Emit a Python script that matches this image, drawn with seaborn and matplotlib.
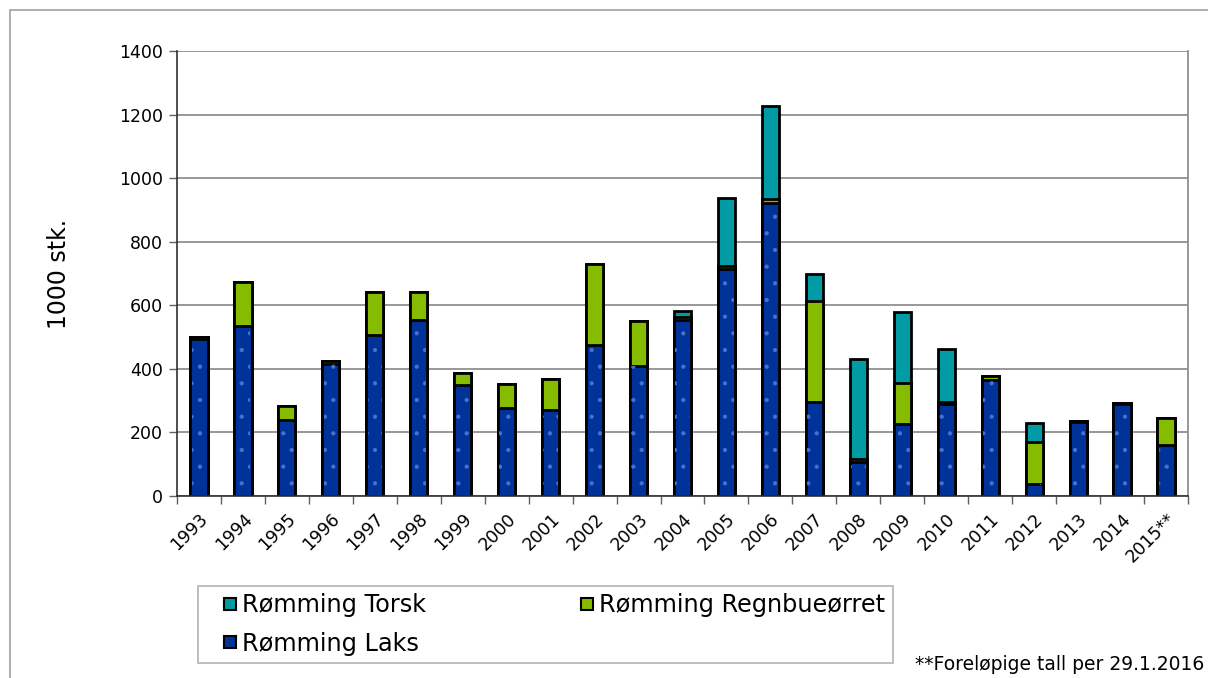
import pandas as pd
import seaborn as sns
import matplotlib.pyplot as plt
from matplotlib.lines import Line2D
from matplotlib.patches import Rectangle

# Values (1000 stk.)
years = ['1993', '1994', '1995', '1996', '1997', '1998', '1999', '2000', '2001', '2002',
         '2003', '2004', '2005', '2006', '2007', '2008', '2009', '2010', '2011', '2012',
         '2013', '2014', '2015**']
laks = [493, 535, 240, 415, 505, 554, 348, 278, 271, 476,
        408, 553, 715, 922, 297, 108, 225, 290, 366, 37,
        232, 289, 160]
regnbue = [8, 139, 43, 9, 136, 87, 40, 73, 97, 254,
           144, 10, 8, 13, 315, 8, 132, 7, 12, 134,
           3, 3, 85]
torsk = [0, 0, 0, 0, 0, 0, 0, 0, 0, 0,
         0, 20, 215, 292, 86, 314, 223, 167, 0, 58,
         0, 0, 0]

c_laks = '#003399'
c_regn = '#86BC00'
c_torsk = '#009BA5'

df = pd.DataFrame({'year': years, 'laks': laks, 'regnbue': regnbue, 'torsk': torsk})
df['laks_regn'] = df['laks'] + df['regnbue']
df['total'] = df['laks_regn'] + df['torsk']

sns.set_style('white')
plt.rcParams['font.family'] = ['DejaVu Sans']
plt.rcParams['text.color'] = 'black'
plt.rcParams['hatch.linewidth'] = 0.6

fig = plt.figure(figsize=(12.08, 6.78), dpi=100)
ax = fig.add_axes([177 / 1208, 1 - 496 / 678, 1011 / 1208, 445 / 678])

# Stacked bars drawn as overlapping cumulative layers
sns.barplot(data=df, x='year', y='total', color=c_torsk, width=0.39,
            edgecolor='black', linewidth=2, saturation=1, ax=ax)
sns.barplot(data=df, x='year', y='laks_regn', color=c_regn, width=0.39,
            edgecolor='black', linewidth=2, saturation=1, ax=ax)
sns.barplot(data=df, x='year', y='laks', color=c_laks, width=0.39,
            edgecolor='black', linewidth=2, saturation=1, ax=ax)

# faint dotted texture on the salmon bars
sns.barplot(data=df, x='year', y='laks', color=c_laks, width=0.33,
            linewidth=0, saturation=1, ax=ax)
for p in ax.containers[-1]:
    p.set_facecolor('none')
    p.set_edgecolor('#4d70c8')
    p.set_linewidth(0)
    p.set_hatch('.')

ax.set_ylim(0, 1400)
ax.set_xlim(-0.5, len(years) - 0.5)
ax.set_yticks(range(0, 1401, 200))
ax.yaxis.grid(True, color='#909090', linewidth=1.3)
ax.set_axisbelow(True)
ax.set_xlabel('')
ax.set_ylabel('1000 stk.', fontsize=17, labelpad=35, color='black')

for s in ['left', 'bottom']:
    ax.spines[s].set_color('#303030')
    ax.spines[s].set_linewidth(1.2)
ax.spines['right'].set_color('#909090')
ax.spines['right'].set_linewidth(1.3)
ax.spines['top'].set_visible(False)

ax.tick_params(axis='y', length=6, width=1, color='#606060', labelsize=12.5,
               labelcolor='black', left=True, pad=4)
ax.set_xticks(range(len(years)))
ax.set_xticklabels(years, rotation=45, ha='right', rotation_mode='anchor', fontsize=12.5)
ax.tick_params(axis='x', which='major', length=0, pad=10, labelcolor='black')
ax.set_xticks([i + 0.5 for i in range(-1, len(years))], minor=True)
ax.tick_params(axis='x', which='minor', length=6, width=1, color='#606060', bottom=True)

def marker(c, label):
    return Line2D([], [], linestyle='none', marker='s', markersize=9, markerfacecolor=c,
                  markeredgecolor='black', markeredgewidth=1.5, label=label)

handles = [marker(c_torsk, 'Rømming Torsk'), marker(c_laks, 'Rømming Laks'),
           marker(c_regn, 'Rømming Regnbueørret')]
leg = fig.legend(handles=handles, ncol=2, loc='upper left',
                 bbox_to_anchor=(198 / 1208, 1 - 586 / 678),
                 fontsize=17.3, frameon=True, fancybox=False, edgecolor='#a0a0a0',
                 handlelength=2.1, handletextpad=-0.55,
                 labelspacing=0.6, borderpad=0.3, borderaxespad=0,
                 columnspacing=5.65)
leg.get_frame().set_linewidth(1.2)

fig.text(915 / 1208, 1 - 665 / 678, '**Foreløpige tall per 29.1.2016',
         fontsize=13.5, va='center', ha='left')

fig.patches.append(Rectangle((10 / 1208, -0.1), 1.2, 1.1 - 10 / 678, transform=fig.transFigure,
                             fill=False, edgecolor='#a0a0a0', linewidth=1.2))

plt.savefig('out.png', dpi=100)
